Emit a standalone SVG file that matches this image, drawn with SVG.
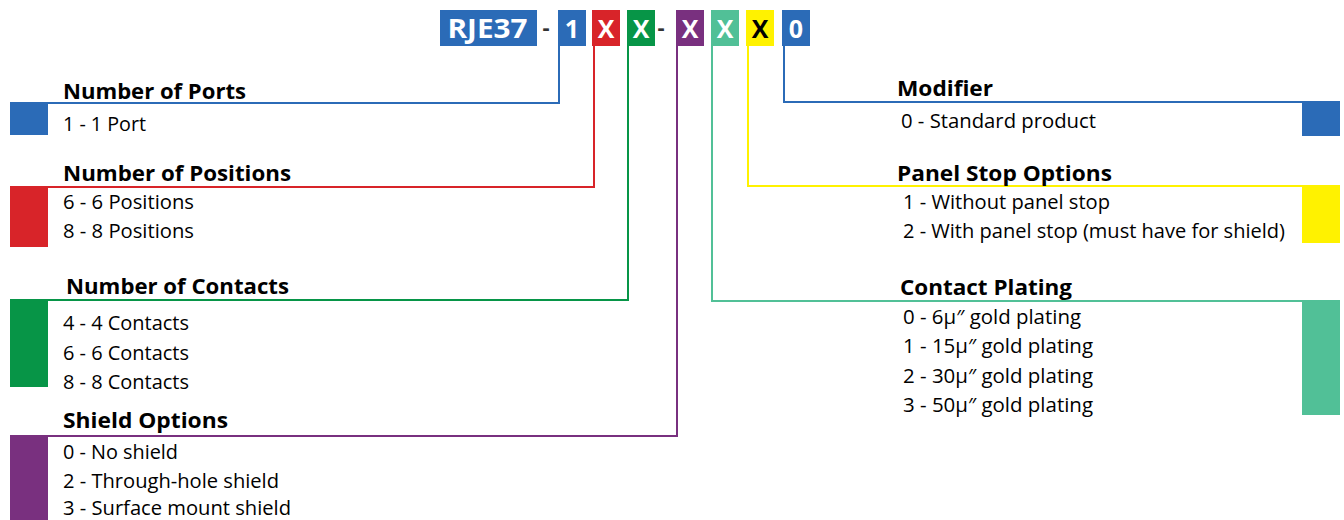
<svg xmlns="http://www.w3.org/2000/svg" width="1344" height="520" viewBox="0 0 1344 520">
<style>
text{font-family:"Open Sans","Noto Sans","Liberation Sans",sans-serif;}
.h{font-size:22px;font-weight:700;fill:#000;}
.b{font-size:19.5px;fill:#000;}
.c{font-size:25px;font-weight:700;fill:#fff;text-anchor:middle;}
.d{font-size:22px;font-weight:700;fill:#333;text-anchor:middle;}
.ln{fill:none;stroke-width:2;}
.blue{fill:#2b6bb7;}.red{fill:#d82429;}.green{fill:#079547;}.purple{fill:#79307f;}.teal{fill:#51c097;}.yellow{fill:#fff200;}
</style>
<rect width="1344" height="520" fill="#fff"/>
<g id="code">
<rect class="blue" x="440" y="10" width="97" height="36"/><text class="c" x="487.5" y="38" style="font-size:26px" textLength="80" lengthAdjust="spacingAndGlyphs">RJE37</text>
<text class="d" x="546" y="35">-</text>
<rect class="blue" x="558" y="10" width="28" height="36"/><text class="c" x="572" y="38">1</text>
<rect class="red" x="592" y="10" width="28" height="36"/><text class="c" x="606" y="38">X</text>
<rect class="green" x="627" y="10" width="28" height="36"/><text class="c" x="641" y="38">X</text>
<text class="d" x="661" y="35">-</text>
<rect class="purple" x="676" y="10" width="28" height="36"/><text class="c" x="690" y="38">X</text>
<rect class="teal" x="711" y="10" width="28" height="36"/><text class="c" x="725" y="38">X</text>
<rect class="yellow" x="746" y="10" width="28" height="36"/><text class="c" x="760" y="38" style="fill:#000">X</text>
<rect class="blue" x="782" y="10" width="28" height="36"/><text class="c" x="796" y="38">0</text>
</g>
<g id="connectors">
<polyline class="ln" stroke="#2b6bb7" points="559,46 559,103 48,103"/>
<polyline class="ln" stroke="#d82429" points="594,46 594,187 48,187"/>
<polyline class="ln" stroke="#079547" points="628,46 628,300 48,300"/>
<polyline class="ln" stroke="#79307f" points="677,46 677,436 48,436"/>
<polyline class="ln" stroke="#2b6bb7" points="784,46 784,102 1302,102"/>
<polyline class="ln" stroke="#fff200" points="748,46 748,186 1302,186"/>
<polyline class="ln" stroke="#51c097" points="712,46 712,301 1302,301"/>
</g>
<g id="ports">
<rect class="blue" x="10" y="102" width="38" height="33"/>
<text class="h" x="63" y="99" textLength="183" lengthAdjust="spacingAndGlyphs">Number of Ports</text>
<text class="b" x="63" y="131" textLength="83" lengthAdjust="spacingAndGlyphs">1 - 1 Port</text>
</g>
<g id="positions">
<rect class="red" x="10" y="186" width="38" height="61"/>
<text class="h" x="63" y="181" textLength="228" lengthAdjust="spacingAndGlyphs">Number of Positions</text>
<text class="b" x="63" y="209" textLength="131" lengthAdjust="spacingAndGlyphs">6 - 6 Positions</text>
<text class="b" x="63" y="238" textLength="131" lengthAdjust="spacingAndGlyphs">8 - 8 Positions</text>
</g>
<g id="contacts">
<rect class="green" x="10" y="299" width="38" height="88"/>
<text class="h" x="66" y="294" textLength="223" lengthAdjust="spacingAndGlyphs">Number of Contacts</text>
<text class="b" x="63" y="330" textLength="126" lengthAdjust="spacingAndGlyphs">4 - 4 Contacts</text>
<text class="b" x="63" y="360" textLength="126" lengthAdjust="spacingAndGlyphs">6 - 6 Contacts</text>
<text class="b" x="63" y="389" textLength="126" lengthAdjust="spacingAndGlyphs">8 - 8 Contacts</text>
</g>
<g id="shield">
<rect class="purple" x="10" y="435" width="38" height="85"/>
<text class="h" x="63" y="428" textLength="165" lengthAdjust="spacingAndGlyphs">Shield Options</text>
<text class="b" x="63" y="459" textLength="115" lengthAdjust="spacingAndGlyphs">0 - No shield</text>
<text class="b" x="63" y="488" textLength="216" lengthAdjust="spacingAndGlyphs">2 - Through-hole shield</text>
<text class="b" x="63" y="515" textLength="228" lengthAdjust="spacingAndGlyphs">3 - Surface mount shield</text>
</g>
<g id="modifier">
<rect class="blue" x="1302" y="101" width="38" height="35"/>
<text class="h" x="897" y="96" textLength="96" lengthAdjust="spacingAndGlyphs">Modifier</text>
<text class="b" x="901" y="128" textLength="195" lengthAdjust="spacingAndGlyphs">0 - Standard product</text>
</g>
<g id="panelstop">
<rect class="yellow" x="1302" y="185" width="38" height="58"/>
<text class="h" x="897" y="181" textLength="215" lengthAdjust="spacingAndGlyphs">Panel Stop Options</text>
<text class="b" x="903" y="209" textLength="207" lengthAdjust="spacingAndGlyphs">1 - Without panel stop</text>
<text class="b" x="903" y="238" textLength="382" lengthAdjust="spacingAndGlyphs">2 - With panel stop (must have for shield)</text>
</g>
<g id="plating">
<rect class="teal" x="1302" y="300" width="38" height="115"/>
<text class="h" x="900" y="295" textLength="172" lengthAdjust="spacingAndGlyphs">Contact Plating</text>
<text class="b" x="903" y="324" textLength="178" lengthAdjust="spacingAndGlyphs">0 - 6μ″ gold plating</text>
<text class="b" x="903" y="353" textLength="190" lengthAdjust="spacingAndGlyphs">1 - 15μ″ gold plating</text>
<text class="b" x="903" y="383" textLength="190" lengthAdjust="spacingAndGlyphs">2 - 30μ″ gold plating</text>
<text class="b" x="903" y="412" textLength="190" lengthAdjust="spacingAndGlyphs">3 - 50μ″ gold plating</text>
</g>
</svg>
